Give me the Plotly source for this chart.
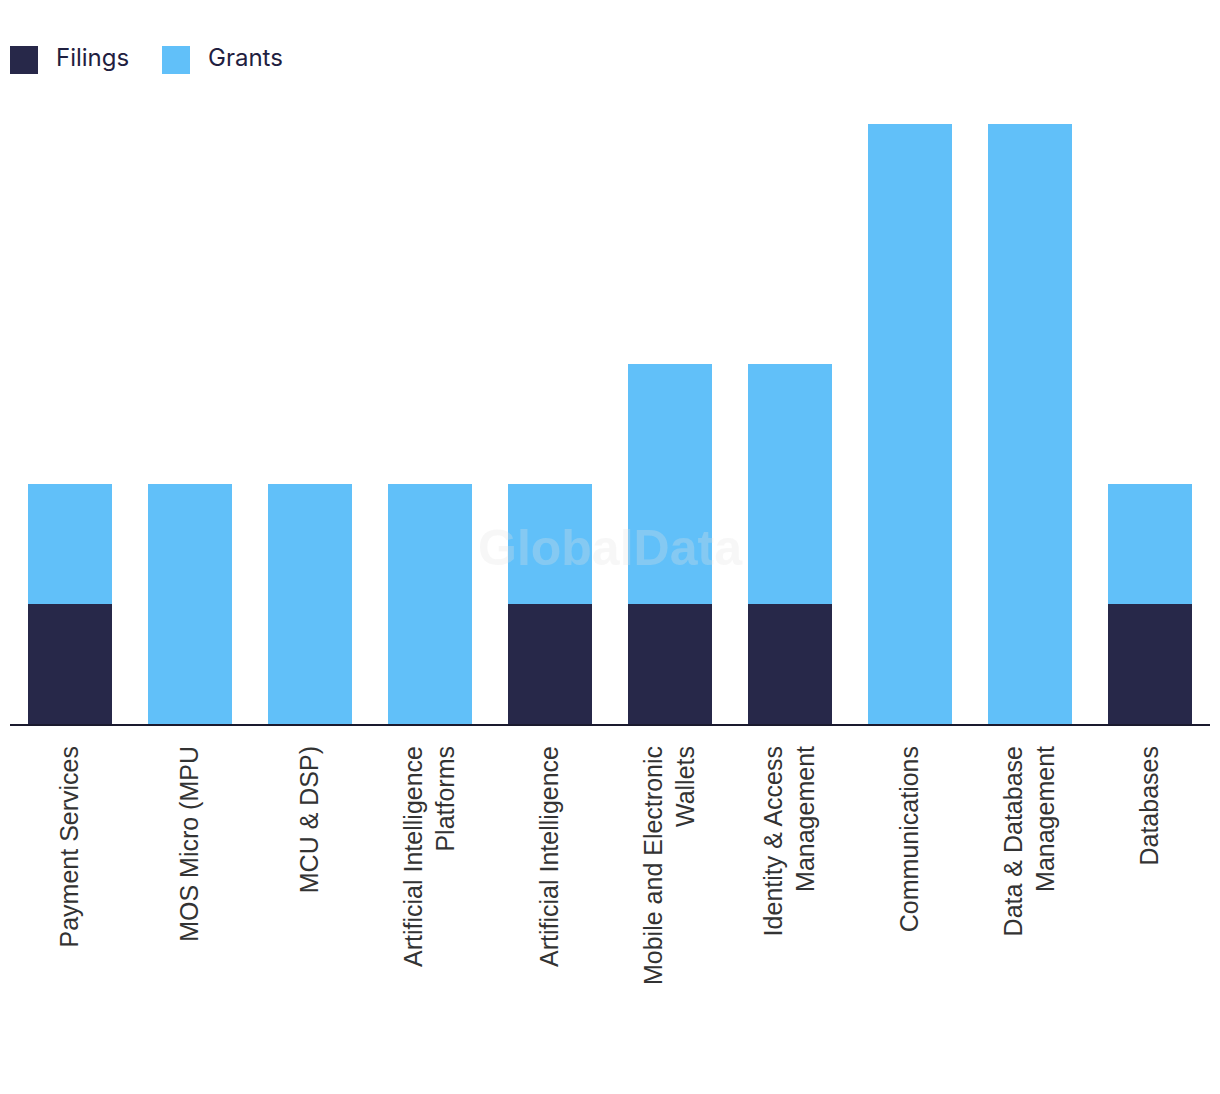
import plotly.graph_objects as go

categories = [
    "Payment Services",
    "MOS Micro (MPU",
    "MCU & DSP)",
    "Artificial Intelligence<br>Platforms",
    "Artificial Intelligence",
    "Mobile and Electronic<br>Wallets",
    "Identity & Access<br>Management",
    "Communications",
    "Data & Database<br>Management",
    "Databases",
]
filings = [1, 0, 0, 0, 1, 1, 1, 0, 0, 1]
grants = [1, 2, 2, 2, 1, 2, 2, 5, 5, 1]

series_names = ["Filings", "Grants"]
series_colors = ["#272849", "#61C0F9"]

fig = go.Figure()
fig.add_trace(go.Bar(x=categories, y=filings, name=series_names[0],
                     marker_color=series_colors[0], marker_line_width=0, showlegend=False))
fig.add_trace(go.Bar(x=categories, y=grants, name=series_names[1],
                     marker_color=series_colors[1], marker_line_width=0, showlegend=False))

# plot area: x 10..1210 px, y 124..724 px
def px_x(px):
    return (px - 10) / 1200.0

def px_y(py):
    return (724 - py) / 600.0

shapes = []
annotations = []
legend_boxes = [10, 162]
for name, color, bx in zip(series_names, series_colors, legend_boxes):
    shapes.append(dict(type="rect", xref="paper", yref="paper",
                       x0=px_x(bx), x1=px_x(bx + 28), y0=px_y(74), y1=px_y(46),
                       fillcolor=color, line_width=0))
    annotations.append(dict(text=name, xref="paper", yref="paper",
                            x=px_x(bx + 44), y=px_y(58), xanchor="left", yanchor="middle",
                            showarrow=False,
                            font=dict(family="Inter", size=24, color="#1f2040")))

annotations.append(dict(
    text="<b>GlobalData</b>",
    x=0.5, y=px_y(548), xref="paper", yref="paper", xanchor="center", yanchor="middle",
    showarrow=False,
    font=dict(family="Liberation Sans, Arial", size=50, color="rgba(228,228,228,0.28)"),
))

fig.update_layout(
    barmode="stack",
    bargap=0.3,
    width=1220,
    height=1094,
    margin=dict(l=10, r=10, t=124, b=370),
    plot_bgcolor="white",
    paper_bgcolor="white",
    showlegend=False,
    shapes=shapes,
    annotations=annotations,
    xaxis=dict(
        tickangle=-90,
        tickfont=dict(family="Liberation Sans, Arial", size=25, color="#333333"),
        showline=True, linecolor="#1a1a2e", linewidth=2,
        ticks="outside", ticklen=10, tickcolor="rgba(0,0,0,0)",
        showgrid=False,
    ),
    yaxis=dict(
        range=[0, 5],
        visible=False,
        showgrid=False,
    ),
)

fig.write_html("out.html")
